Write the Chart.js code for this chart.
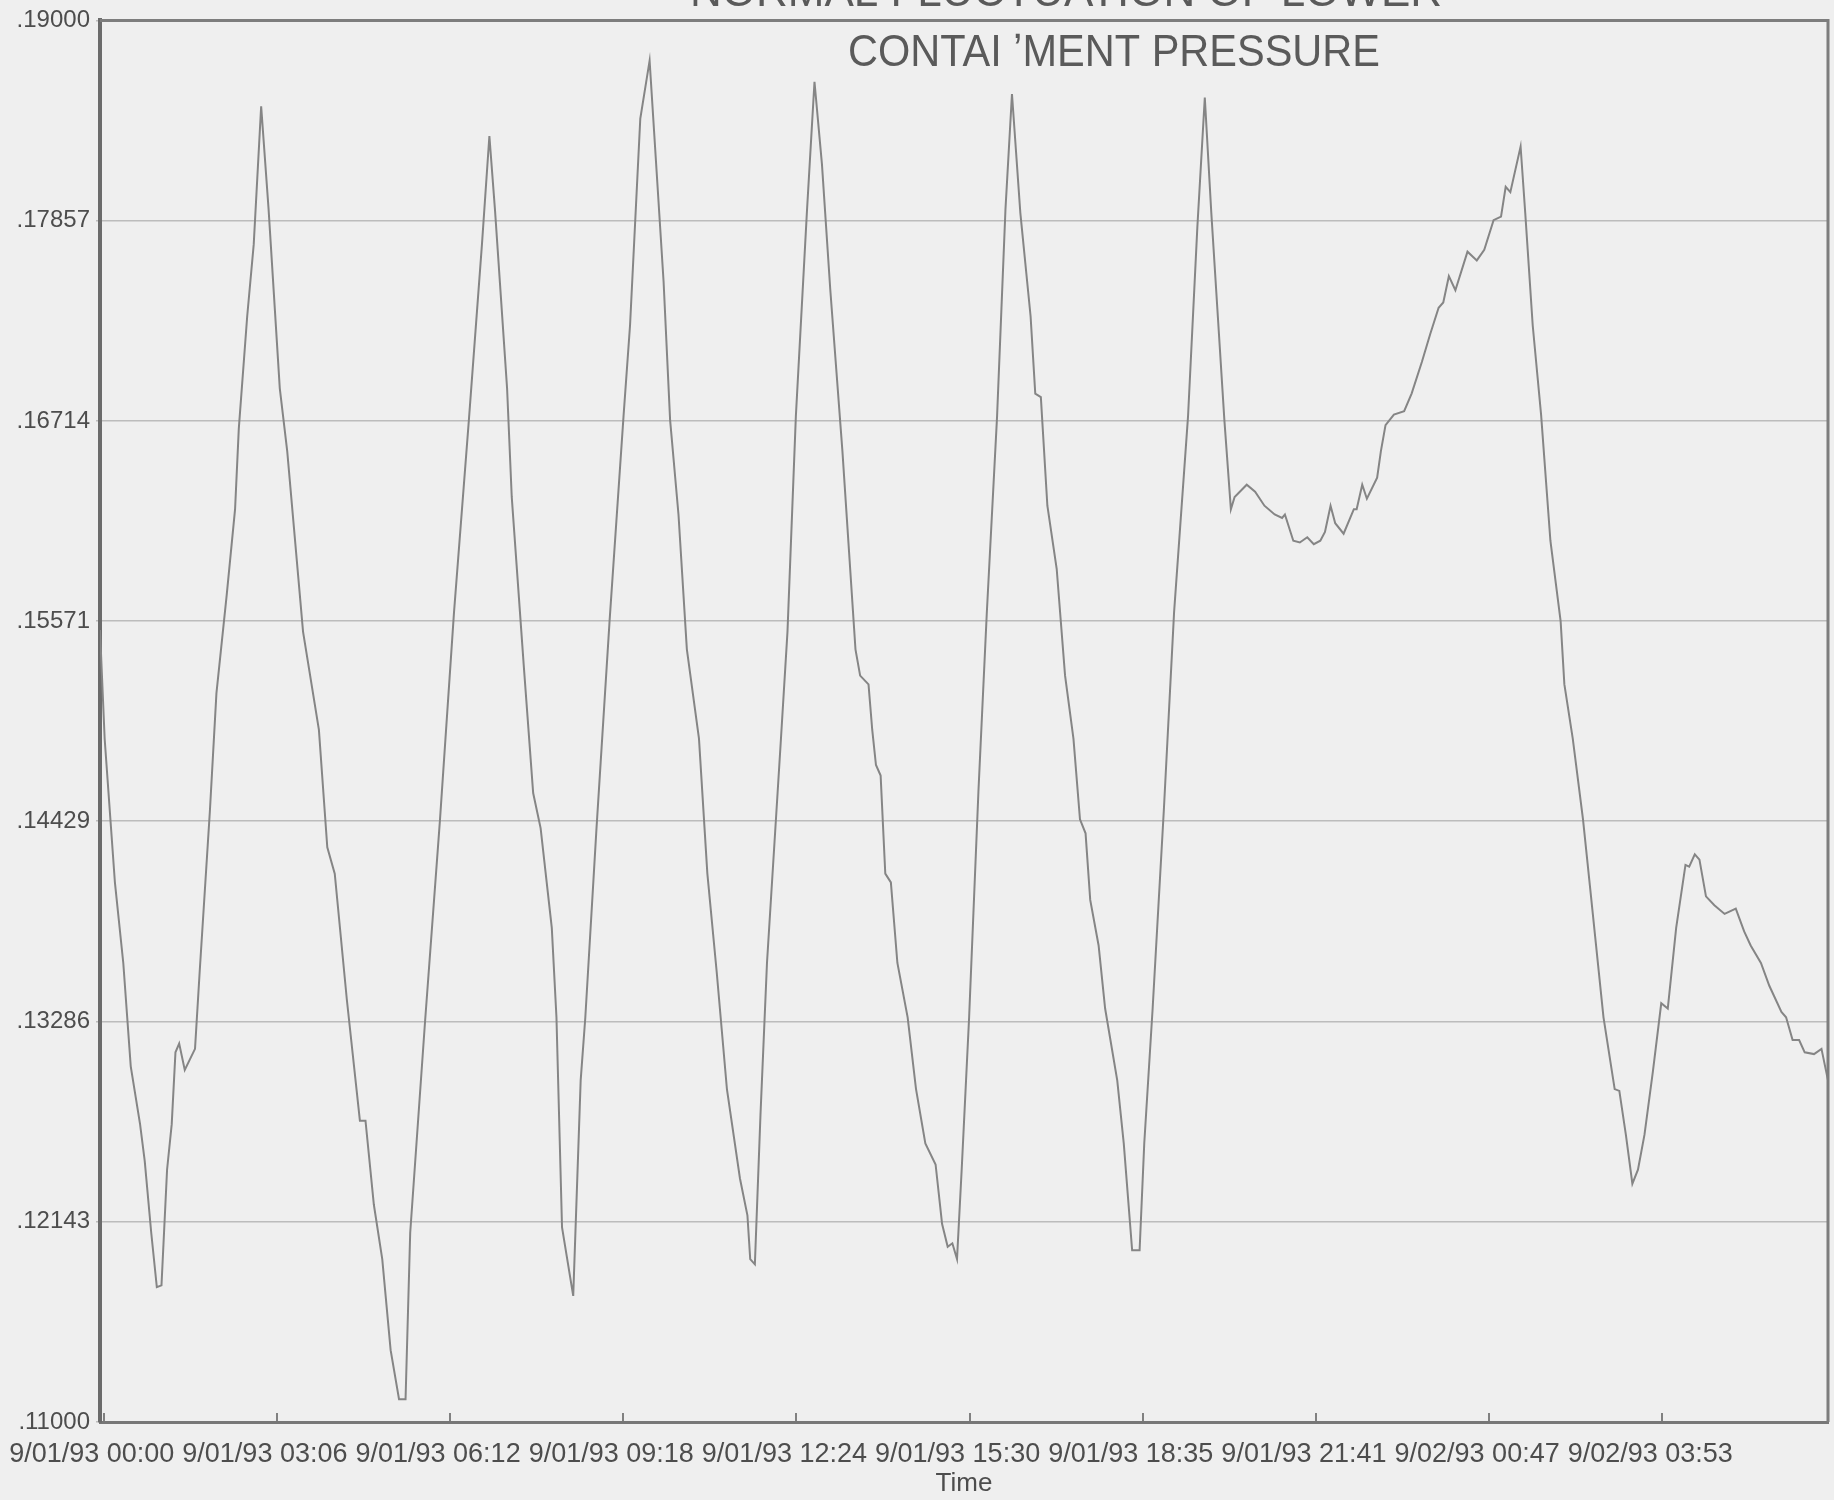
<!DOCTYPE html>
<html>
<head>
<meta charset="utf-8">
<script src="https://cdn.jsdelivr.net/npm/chart.js@4.4.0/dist/chart.umd.min.js"></script>
<style>
  html, body { margin: 0; padding: 0; background: #efefef; overflow: hidden; }
  #wrap { width: 1834px; height: 1500px; position: relative; }
</style>
</head>
<body>
<div id="wrap"><canvas id="chart"></canvas></div>
<script>
// x is minutes after 9/01/93 00:00
const TICK_STEP = 185.9;
const X_MIN = -4;
const X_MAX = 1851;

const xTickLabels = [
    '9/01/93 00:00', '9/01/93 03:06', '9/01/93 06:12', '9/01/93 09:18', '9/01/93 12:24',
    '9/01/93 15:30', '9/01/93 18:35', '9/01/93 21:41', '9/02/93 00:47', '9/02/93 03:53'
];
const yTickValues = [0.11, 0.12143, 0.13286, 0.14429, 0.15571, 0.16714, 0.17857, 0.19];
const yTickLabels = ['.11000', '.12143', '.13286', '.14429', '.15571', '.16714', '.17857', '.19000'];
const noteLines = ['NORMAL FLUCTUATION OF LOWER', 'CONTAI \u02BCMENT PRESSURE'];

const times = [
    -4, 1, 12, 21, 29, 39, 44, 51, 57, 62, 68, 73, 77, 81, 87, 98, 103, 114, 121, 132,
    141, 145, 154, 161, 169, 177, 189, 197, 214, 231, 240, 248, 261, 275, 281, 290, 299, 308, 317, 324,
    329, 345, 361, 376, 392, 406, 414, 420, 433, 438, 451, 461, 469, 481, 486, 492, 504, 512, 517, 529,
    543, 558, 565, 576, 586, 601, 608, 617, 626, 639, 648, 658, 669, 683, 691, 694, 699, 705, 712, 727,
    734, 743, 755, 763, 771, 780, 793, 807, 812, 821, 825, 829, 834, 839, 845, 852, 863, 872, 882, 893,
    900, 906, 911, 916, 921, 929, 939, 948, 959, 968, 975, 984, 995, 1000, 1006, 1013, 1023, 1032, 1041, 1048,
    1054, 1059, 1068, 1075, 1088, 1095, 1104, 1112, 1117, 1126, 1138, 1149, 1164, 1174, 1182, 1189, 1196, 1203, 1210, 1214,
    1227, 1236, 1246, 1257, 1265, 1268, 1277, 1284, 1292, 1299, 1306, 1311, 1317, 1322, 1331, 1342, 1345, 1351, 1356, 1367,
    1371, 1376, 1385, 1396, 1404, 1415, 1424, 1433, 1438, 1444, 1451, 1464, 1474, 1482, 1492, 1500, 1505, 1510, 1521, 1526,
    1534, 1543, 1553, 1564, 1568, 1577, 1588, 1596, 1610, 1622, 1627, 1634, 1641, 1647, 1654, 1663, 1672, 1679, 1688, 1698,
    1702, 1708, 1713, 1720, 1729, 1740, 1752, 1761, 1768, 1779, 1788, 1801, 1806, 1813, 1820, 1826, 1836, 1844, 1851
];
const pressure = [
    0.1552, 0.1490, 0.1408, 0.1362, 0.1303, 0.1270, 0.1249, 0.1208, 0.1177, 0.1178, 0.1244, 0.1270, 0.1311, 0.1316, 0.1301, 0.1313, 0.1357, 0.1449, 0.1516, 0.1572,
    0.1621, 0.1667, 0.1731, 0.1772, 0.1851, 0.1792, 0.1690, 0.1654, 0.1551, 0.1495, 0.1428, 0.1413, 0.1341, 0.1272, 0.1272, 0.1224, 0.1193, 0.1141, 0.1113, 0.1113,
    0.1208, 0.1329, 0.1444, 0.1562, 0.1672, 0.1772, 0.1834, 0.1792, 0.1690, 0.1628, 0.1531, 0.1459, 0.1439, 0.1382, 0.1331, 0.1211, 0.1172, 0.1295, 0.1331, 0.1439,
    0.1557, 0.1674, 0.1726, 0.1844, 0.1877, 0.1751, 0.1672, 0.1618, 0.1541, 0.1490, 0.1413, 0.1357, 0.1290, 0.1239, 0.1218, 0.1193, 0.1190, 0.1275, 0.1362, 0.1490,
    0.1551, 0.1674, 0.1792, 0.1865, 0.1818, 0.1746, 0.1654, 0.1541, 0.1526, 0.1521, 0.1495, 0.1475, 0.1469, 0.1413, 0.1408, 0.1362, 0.1331, 0.1290, 0.1259, 0.1247,
    0.1213, 0.1200, 0.1202, 0.1193, 0.1244, 0.1331, 0.1460, 0.1562, 0.1674, 0.1792, 0.1858, 0.1790, 0.1731, 0.1687, 0.1685, 0.1623, 0.1587, 0.1526, 0.1490, 0.1444,
    0.1436, 0.1398, 0.1372, 0.1336, 0.1295, 0.1259, 0.1198, 0.1198, 0.1259, 0.1336, 0.1449, 0.1562, 0.1674, 0.1782, 0.1856, 0.1790, 0.1731, 0.1672, 0.1621, 0.1628,
    0.1635, 0.1631, 0.1623, 0.1618, 0.1616, 0.1618, 0.1603, 0.1602, 0.1605, 0.1601, 0.1603, 0.1608, 0.1623, 0.1613, 0.1607, 0.1621, 0.1621, 0.1635, 0.1627, 0.1639,
    0.1654, 0.1669, 0.1675, 0.1677, 0.1687, 0.1705, 0.1721, 0.1736, 0.1739, 0.1754, 0.1746, 0.1768, 0.1763, 0.1769, 0.1786, 0.1788, 0.1805, 0.1802, 0.1828, 0.1790,
    0.1726, 0.1675, 0.1603, 0.1557, 0.1521, 0.1490, 0.1444, 0.1403, 0.1331, 0.1290, 0.1289, 0.1264, 0.1236, 0.1244, 0.1264, 0.1300, 0.1339, 0.1336, 0.1382, 0.1418,
    0.1417, 0.1424, 0.1421, 0.1400, 0.1395, 0.1390, 0.1393, 0.1380, 0.1372, 0.1362, 0.1349, 0.1334, 0.1331, 0.1318, 0.1318, 0.1311, 0.1310, 0.1313, 0.1295
];

// frame on top/right of the plot plus the handwritten notes
const framePlugin = {
    id: 'frame',
    afterDraw(chart) {
        const { ctx, chartArea: a } = chart;
        ctx.save();
        ctx.strokeStyle = '#7d7d7d';
        ctx.lineWidth = 3;
        ctx.beginPath();
        ctx.moveTo(a.left, a.top);
        ctx.lineTo(a.right, a.top);
        ctx.lineTo(a.right, a.bottom);
        ctx.stroke();

        ctx.fillStyle = '#5a5a5a';
        ctx.textBaseline = 'alphabetic';
        ctx.font = '44px "Liberation Sans"';
        ctx.fillText(noteLines[0], 690, 6, 820);
        ctx.fillText(noteLines[1], 848, 66, 532);
        ctx.restore();
    }
};

const ctx = document.getElementById('chart').getContext('2d');
new Chart(ctx, {
    type: 'line',
    data: {
        datasets: [{
            data: times.map((t, i) => ({ x: t, y: pressure[i] })),
            borderColor: '#858585',
            borderWidth: 2,
            pointRadius: 0,
            tension: 0,
            fill: false
        }]
    },
    options: {
        responsive: true,
        maintainAspectRatio: false,
        animation: false,
        layout: { padding: { top: 20, right: 6, left: 0, bottom: 0 } },
        plugins: {
            legend: { display: false },
            tooltip: { enabled: false }
        },
        scales: {
            x: {
                type: 'linear',
                min: X_MIN,
                max: X_MAX,
                afterBuildTicks: scale => {
                    scale.ticks = xTickLabels.map((_, i) => ({ value: i * TICK_STEP }));
                },
                afterFit: scale => {
                    scale.height = 78;
                    scale.paddingLeft = 0; // labels may hang over the y axis
                    scale.paddingRight = 0;
                },
                ticks: {
                    autoSkip: false,
                    maxRotation: 0,
                    minRotation: 0,
                    padding: 25,
                    labelOffset: -12,
                    color: '#4d4d4d',
                    font: { family: 'Liberation Sans', size: 27 },
                    callback: (value, index) => xTickLabels[index]
                },
                grid: { drawOnChartArea: false, tickLength: -9, color: '#808080', lineWidth: 2 },
                border: { color: '#777777', width: 3 },
                title: {
                    display: true,
                    text: 'Time',
                    color: '#4d4d4d',
                    font: { family: 'Liberation Sans', size: 26 },
                    padding: { top: 0, bottom: 1 }
                }
            },
            y: {
                min: 0.11,
                max: 0.19,
                afterBuildTicks: scale => {
                    scale.ticks = yTickValues.map(v => ({ value: v }));
                },
                afterFit: scale => { scale.width = 100; },
                ticks: {
                    padding: 6,
                    color: '#4d4d4d',
                    font: { family: 'Liberation Sans', size: 24 },
                    callback: (value, index) => yTickLabels[index]
                },
                grid: { color: '#bcbcbc', lineWidth: 1.5, tickLength: 4 },
                border: { color: '#6b6b6b', width: 4 }
            }
        }
    },
    plugins: [framePlugin]
});
</script>
</body>
</html>
